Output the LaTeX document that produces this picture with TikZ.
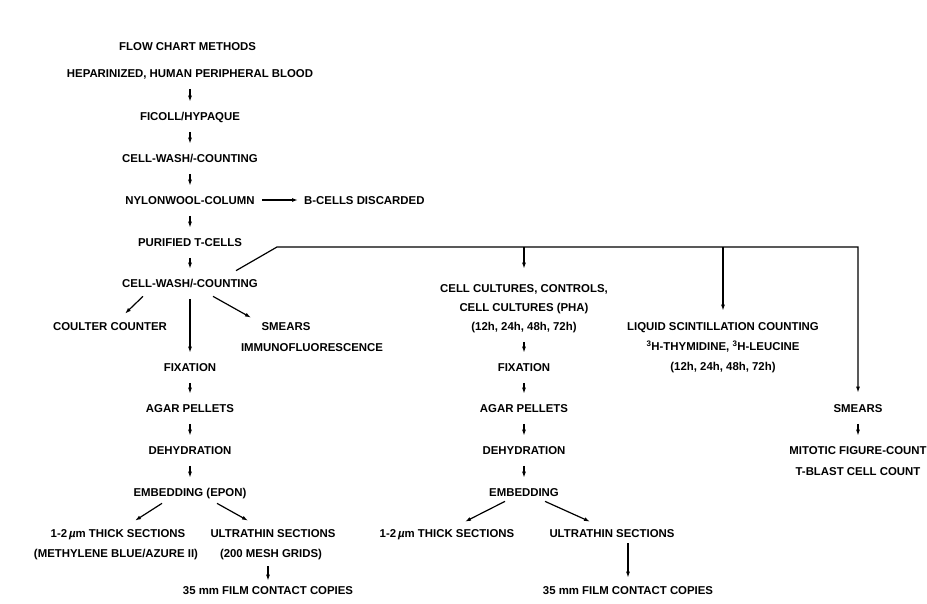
\documentclass[tikz,border=0pt]{standalone}
\usepackage{fontspec}
\setmainfont{Liberation Sans}
\usetikzlibrary{arrows.meta,calc}
\tikzset{
  lbl/.style={font=\bfseries\fontsize{11.4}{13}\selectfont, inner xsep=2pt, inner ysep=4pt, text height=8.3pt, text depth=0pt},
  arr/.style={line width=1.2pt, -{Latex[length=6pt,width=4pt]}},
  varr/.style={arr, shorten <=7.5pt, shorten >=6pt}
}
\begin{document}
\begin{tikzpicture}[x=1pt,y=-1pt]
\useasboundingbox[fill=white] (0,0) rectangle (927,603);
% left / main column
\node[lbl,anchor=west] (title) at (117,46) {FLOW CHART METHODS};
\node[lbl] (hep) at (190,73) {HEPARINIZED, HUMAN PERIPHERAL BLOOD};
\node[lbl] (fic) at (190,116) {FICOLL/HYPAQUE};
\node[lbl] (cw1) at (190,158) {CELL-WASH/-COUNTING};
\node[lbl] (nyl) at (190,200) {NYLONWOOL-COLUMN};
\node[lbl,anchor=west] (bcl) at (302,200) {B-CELLS DISCARDED};
\node[lbl] (pur) at (190,242) {PURIFIED T-CELLS};
\node[lbl] (cw2) at (190,283) {CELL-WASH/-COUNTING};
\node[lbl] (cou) at (110,326) {COULTER COUNTER};
\node[lbl] (smL) at (286,326) {SMEARS};
\node[lbl] (imm) at (312,347) {IMMUNOFLUORESCENCE};
\node[lbl] (fixL) at (190,367) {FIXATION};
\node[lbl] (agL) at (190,408) {AGAR PELLETS};
\node[lbl] (dehL) at (190,450) {DEHYDRATION};
\node[lbl] (embL) at (190,492) {EMBEDDING (EPON)};
\node[lbl] (thL) at (118,533) {1-2\,\textit{µ}m THICK SECTIONS};
\node[lbl] (metL) at (116,553) {(METHYLENE BLUE/AZURE II)};
\node[lbl] (utL) at (273,533) {ULTRATHIN SECTIONS};
\node[lbl] (meshL) at (271,553) {(200 MESH GRIDS)};
\node[lbl] (filmL) at (268,590) {35 mm FILM CONTACT COPIES};
% middle column
\node[lbl] (cc1) at (524,288) {CELL CULTURES, CONTROLS,};
\node[lbl] (cc2) at (524,307) {CELL CULTURES (PHA)};
\node[lbl] (cc3) at (524,326) {(12h, 24h, 48h, 72h)};
\node[lbl] (fixM) at (524,367) {FIXATION};
\node[lbl] (agM) at (524,408) {AGAR PELLETS};
\node[lbl] (dehM) at (524,450) {DEHYDRATION};
\node[lbl] (embM) at (524,492) {EMBEDDING};
\node[lbl] (thM) at (447,533) {1-2\,\textit{µ}m THICK SECTIONS};
\node[lbl] (utM) at (612,533) {ULTRATHIN SECTIONS};
\node[lbl] (filmM) at (628,590) {35 mm FILM CONTACT COPIES};
% right columns
\node[lbl] (liq) at (723,326) {LIQUID SCINTILLATION COUNTING};
\node[lbl] (thy) at (723,346) {\textsuperscript{3}H-THYMIDINE, \textsuperscript{3}H-LEUCINE};
\node[lbl] (hrs) at (723,366) {(12h, 24h, 48h, 72h)};
\node[lbl] (smR) at (858,408) {SMEARS};
\node[lbl] (mit) at (858,450) {MITOTIC FIGURE-COUNT};
\node[lbl] (tbl) at (858,471) {T-BLAST CELL COUNT};
% connectors, main column
\draw[varr] (hep) -- (fic);
\draw[varr] (fic) -- (cw1);
\draw[varr] (cw1) -- (nyl);
\draw[arr, shorten <=5pt, shorten >=4pt] (nyl) -- (bcl);
\draw[varr] (nyl) -- (pur);
\draw[varr] (pur) -- (cw2);
\draw[arr] ($(cw2.south)+(-47,5)$) -- ($(cou.north)+(15,-4)$);
\draw[varr] (cw2) -- (fixL);
\draw[arr] ($(cw2.south)+(23,5)$) -- ($(smL.north)+(-35,0)$);
\draw[varr] (fixL) -- (agL);
\draw[varr] (agL) -- (dehL);
\draw[varr] (dehL) -- (embL);
\draw[arr] ($(embL.south)+(-28,3)$) -- ($(thL.north)+(17,-4)$);
\draw[arr] ($(embL.south)+(27,3)$) -- ($(utL.north)+(-25,-4)$);
\draw[arr, shorten <=5pt, shorten >=1pt] ($(meshL.south)+(-3,0)$) -- (filmL.north);
% branch
\coordinate (bend) at (277,247);
\coordinate (jC) at (524,247);
\coordinate (jL) at (723,247);
\coordinate (jS) at (858,247);
\draw[arr, shorten >=7pt] ($(cw2.north)+(46,-4)$) -- (bend) -- (jS) -- (smR.north);
\draw[arr, shorten >=11pt] (jC) -- (cc1.north);
\draw[arr, shorten >=7pt] (jL) -- (liq.north);
% middle column
\draw[varr] (cc3) -- (fixM);
\draw[varr] (fixM) -- (agM);
\draw[varr] (agM) -- (dehM);
\draw[varr] (dehM) -- (embM);
\draw[arr] ($(embM.south)+(-19,1)$) -- ($(thM.north)+(18,-3)$);
\draw[arr] ($(embM.south)+(21,1)$) -- ($(utM.north)+(-22,-3)$);
\draw[arr, shorten <=2pt, shorten >=4pt] ($(utM.south)+(16,0)$) -- (filmM.north);
% right
\draw[varr] (smR) -- (mit);
\end{tikzpicture}
\end{document}
